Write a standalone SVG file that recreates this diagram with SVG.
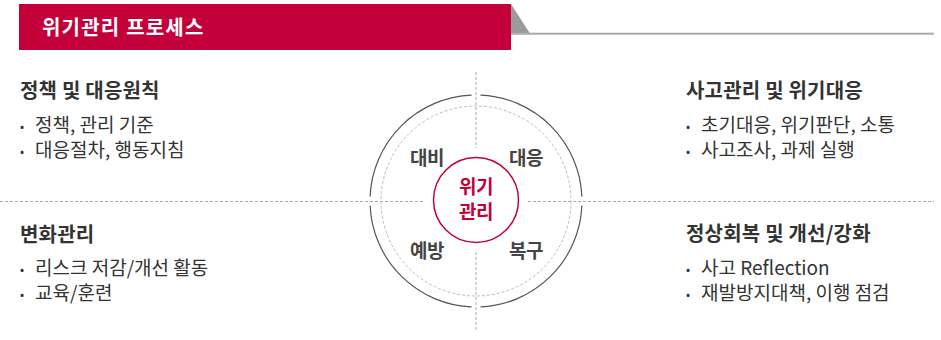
<svg xmlns="http://www.w3.org/2000/svg" width="941" height="340" viewBox="0 0 941 340">
<style>
text{font-family:"Noto Sans CJK KR","Noto Sans",sans-serif;}
.hd{fill:#fff;font-size:20px;font-weight:700;letter-spacing:1.2px;}
.tt{fill:#333;font-size:20px;font-weight:700;letter-spacing:0.2px;}
.bl{fill:#333;font-size:19px;}
.dot{font-size:12px;}
.lab{fill:#444;font-size:19px;font-weight:700;letter-spacing:-0.5px;text-anchor:middle;}
.ctr{fill:#c4003a;font-size:19px;font-weight:700;letter-spacing:-0.5px;text-anchor:middle;}
.dash{stroke:#aaa;stroke-width:1;stroke-dasharray:3 2;fill:none;}
</style>
<g id="header">
<rect x="19" y="4" width="492" height="46" fill="#c4003a"/>
<polygon points="511,4 530,33.5 511,33.5" fill="#9b9b9b"/>
<rect x="511" y="32.7" width="423" height="2" fill="#aaa"/>
<text class="hd" x="42" y="35">위기관리 프로세스</text>
</g>
<g id="connectors">
<line class="dash" x1="476" y1="72" x2="476" y2="148"/>
<line class="dash" x1="476" y1="252" x2="476" y2="330"/>
<line class="dash" x1="0" y1="201.5" x2="423" y2="201.5"/>
<line class="dash" x1="528" y1="201.5" x2="934" y2="201.5"/>
</g>
<g id="cycle">
<path d="M480.5,95.1 A106,106 0 0 1 581.9,196.5 M581.9,205.5 A106,106 0 0 1 480.5,306.9 M471.5,306.9 A106,106 0 0 1 370.1,205.5 M370.1,196.5 A106,106 0 0 1 471.5,95.1" fill="none" stroke="#555" stroke-width="1.2"/>
<circle cx="476" cy="201" r="95" fill="none" stroke="#bbb" stroke-width="1" stroke-dasharray="3 2"/>
</g>
<g id="center">
<circle cx="476" cy="200" r="42.5" fill="#fff" stroke="#c4003a" stroke-width="1.5"/>
<text class="ctr" x="476" y="194">위기</text>
<text class="ctr" x="476" y="219">관리</text>
</g>
<g id="phase-prepare"><text class="lab" x="427" y="165">대비</text></g>
<g id="phase-respond"><text class="lab" x="526" y="165">대응</text></g>
<g id="phase-prevent"><text class="lab" x="427" y="258">예방</text></g>
<g id="phase-recover"><text class="lab" x="526" y="258">복구</text></g>
<g id="policy">
<text class="tt" x="20" y="98">정책 및 대응원칙</text>
<text class="bl"><tspan class="dot" x="20" y="131">•</tspan><tspan x="35" y="132">정책, 관리 기준</tspan></text>
<text class="bl"><tspan class="dot" x="20" y="156">•</tspan><tspan x="35" y="157">대응절차, 행동지침</tspan></text>
</g>
<g id="incident">
<text class="tt" x="686" y="98">사고관리 및 위기대응</text>
<text class="bl"><tspan class="dot" x="686" y="131">•</tspan><tspan x="701" y="132">초기대응, 위기판단, 소통</tspan></text>
<text class="bl"><tspan class="dot" x="686" y="156">•</tspan><tspan x="701" y="157">사고조사, 과제 실행</tspan></text>
</g>
<g id="change">
<text class="tt" x="20" y="242">변화관리</text>
<text class="bl"><tspan class="dot" x="20" y="274">•</tspan><tspan x="35" y="275">리스크 저감/개선 활동</tspan></text>
<text class="bl"><tspan class="dot" x="20" y="299">•</tspan><tspan x="35" y="300">교육/훈련</tspan></text>
</g>
<g id="recovery">
<text class="tt" x="686" y="241">정상회복 및 개선/강화</text>
<text class="bl"><tspan class="dot" x="686" y="274">•</tspan><tspan x="701" y="275">사고 Reflection</tspan></text>
<text class="bl"><tspan class="dot" x="686" y="299">•</tspan><tspan x="701" y="300">재발방지대책, 이행 점검</tspan></text>
</g>
</svg>
